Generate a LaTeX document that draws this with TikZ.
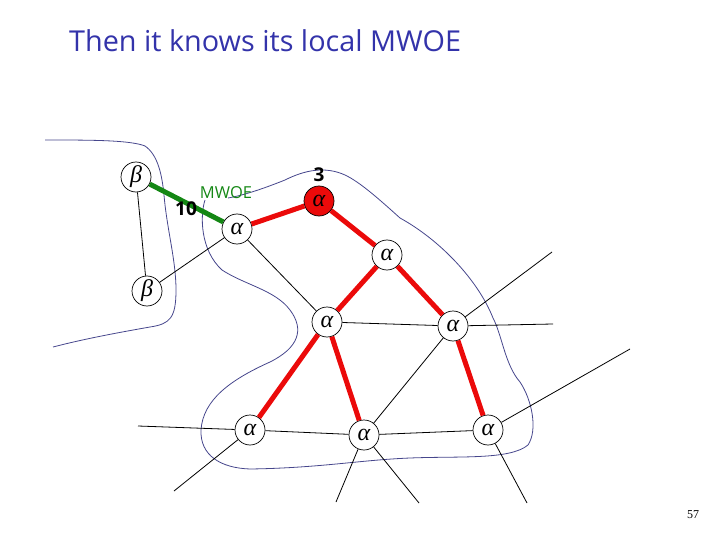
\documentclass[tikz,border=0pt]{standalone}
\usepackage{fontspec}
\setmainfont{Open Sans}
\newfontfamily\pgnum{Liberation Serif}
\newfontfamily\grk{Liberation Serif}
\definecolor{titleblue}{RGB}{51,51,170}
\definecolor{contour}{RGB}{70,70,140}
\definecolor{mstred}{RGB}{235,10,10}
\definecolor{mwoegreen}{RGB}{20,135,20}
\tikzset{
  vtx/.style={circle,draw=black,line width=0.7pt,fill=white,minimum size=30pt,inner sep=0pt,font=\grk\itshape\fontsize{24}{24}\selectfont},
  thin edge/.style={black,line width=0.8pt},
  tree edge/.style={mstred,line width=5pt},
  mwoe edge/.style={mwoegreen,line width=5pt},
  frag/.style={contour,line width=0.8pt},
  wlabel/.style={font=\fontsize{19}{19}\selectfont\bfseries},
}
\begin{document}
\begin{tikzpicture}[x=1pt,y=-1pt]
\useasboundingbox (0,0) rectangle (720,540);
% title
\node[anchor=base west,text=titleblue,font=\fontsize{28.8}{29}\selectfont,inner sep=0pt] (title) at (69,52) {Then it knows its local MWOE};
% fragment contours
\draw[frag] (45,140) .. controls (90,140) and (130,140) .. (145,146) .. controls (158,155) and (162,175) .. (164,195) .. controls (167,230) and (176,260) .. (176,290) .. controls (176,318) and (170,324) .. (150,327) .. controls (110,334) and (80,340) .. (53,347);
\draw[frag] (205,200) .. controls (200,215) and (200,250) .. (222,270) .. controls (245,285) and (275,290) .. (290,310) .. controls (305,330) and (298,348) .. (270,362) .. controls (230,380) and (203,400) .. (201,430) .. controls (200,455) and (220,468) .. (250,469) .. controls (320,468) and (360,460) .. (410,458) .. controls (460,456) and (510,460) .. (528,445) .. controls (538,430) and (532,400) .. (520,382) .. controls (505,365) and (502,335) .. (493,318) .. controls (478,280) and (440,240) .. (400,218) .. controls (380,200) and (360,182) .. (345,175) .. controls (325,166) and (305,170) .. (285,180) .. controls (265,188) and (245,195) .. (228,198);
% nodes
\node[vtx] (b1) at (136,177) {β};
\node[vtx] (b2) at (147,291) {β};
\node[vtx] (a1) at (237,229) {α};
\node[vtx,fill=mstred] (ar) at (319,201) {α};
\node[vtx] (a2) at (387,255) {α};
\node[vtx] (a3) at (327,322) {α};
\node[vtx] (a4) at (453,326) {α};
\node[vtx] (a5) at (250,430) {α};
\node[vtx] (a6) at (364,435) {α};
\node[vtx] (a7) at (488,430) {α};
% free ends
\coordinate (e1) at (552,252);
\coordinate (e2) at (553,324);
\coordinate (e3) at (630,349);
\coordinate (e4) at (138,426);
\coordinate (e5) at (174,491);
\coordinate (e6) at (336,502);
\coordinate (e7) at (419,503);
\coordinate (e8) at (527,503);
% thin edges
\draw[thin edge] (b1) -- (b2);
\draw[thin edge] (b2) -- (a1);
\draw[thin edge] (a1) -- (a3);
\draw[thin edge] (a3) -- (a4);
\draw[thin edge] (a4) -- (e1);
\draw[thin edge] (a4) -- (e2);
\draw[thin edge] (a4) -- (a6);
\draw[thin edge] (a5) -- (a6);
\draw[thin edge] (a6) -- (a7);
\draw[thin edge] (a7) -- (e3);
\draw[thin edge] (a5) -- (e4);
\draw[thin edge] (a5) -- (e5);
\draw[thin edge] (a6) -- (e6);
\draw[thin edge] (a6) -- (e7);
\draw[thin edge] (a7) -- (e8);
% tree edges
\draw[tree edge] (ar) -- (a1);
\draw[tree edge] (ar) -- (a2);
\draw[tree edge] (a2) -- (a3);
\draw[tree edge] (a2) -- (a4);
\draw[tree edge] (a3) -- (a5);
\draw[tree edge] (a3) -- (a6);
\draw[tree edge] (a4) -- (a7);
% mwoe edge
\draw[mwoe edge] (b1) -- (a1);
% labels
\node[wlabel] (w10) at (186,209) {10};
\node[wlabel] (w3) at (319,175) {3};
\node[text=mwoegreen,font=\fontsize{16.5}{16.5}\selectfont] (mw) at (226,193) {MWOE};
\node[font=\pgnum\fontsize{12}{12}\selectfont] (pg) at (693,515) {57};
\end{tikzpicture}
\end{document}
